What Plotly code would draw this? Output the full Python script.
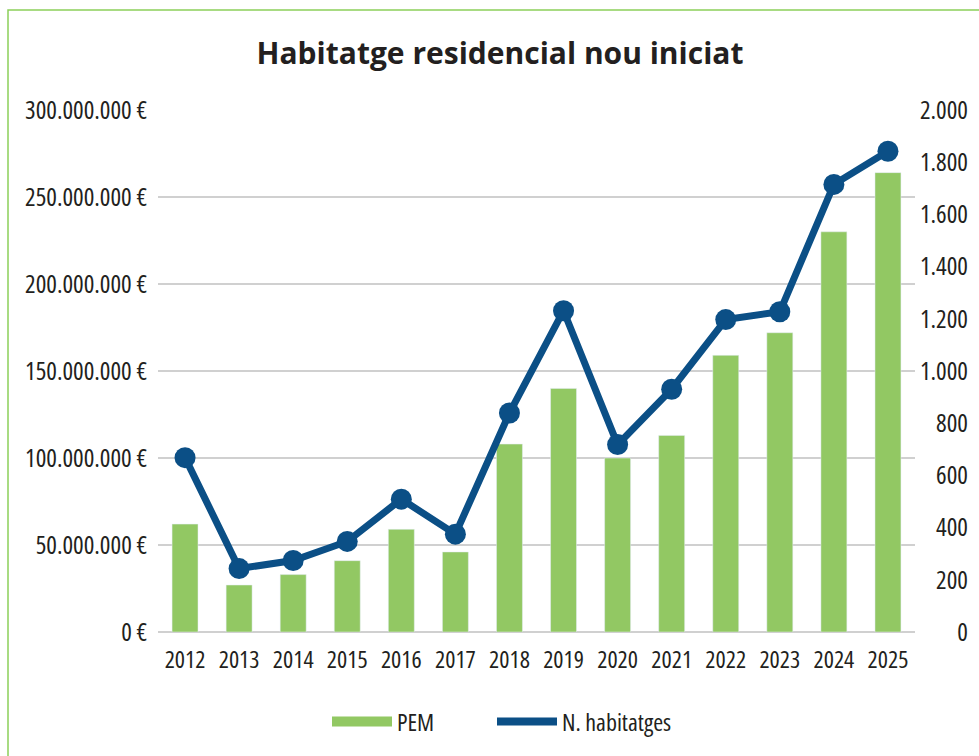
import plotly.graph_objects as go

years = ["2012", "2013", "2014", "2015", "2016", "2017", "2018",
         "2019", "2020", "2021", "2022", "2023", "2024", "2025"]
pem = [62e6, 27e6, 33e6, 41e6, 59e6, 46e6, 108e6,
       140e6, 100e6, 113e6, 159e6, 172e6, 230e6, 264e6]
habitatges = [668, 243, 274, 347, 509, 375, 839,
              1231, 718, 930, 1197, 1227, 1715, 1842]

left_ticks = [0, 50e6, 100e6, 150e6, 200e6, 250e6, 300e6]
left_labels = ["0 €", "50.000.000 €", "100.000.000 €", "150.000.000 €",
               "200.000.000 €", "250.000.000 €", "300.000.000 €"]
right_ticks = [0, 200, 400, 600, 800, 1000, 1200, 1400, 1600, 1800, 2000]
right_labels = ["0", "200", "400", "600", "800", "1.000", "1.200",
                "1.400", "1.600", "1.800", "2.000"]

GREEN = "#92C863"
BLUE = "#0B4F86"
GRID = "#D0D0D0"
TXT = "#231F20"
FONT = "Open Sans, Roboto, sans-serif"

W, H = 979, 756
L, R, T, B = 158, 1, 110, 124
pw = W - L - R
ph = H - T - B
plot_right = 915
dom_end = (plot_right - L) / pw


def px_x(v):
    return (v - L) / pw


def px_y(v):
    return (T + ph - v) / ph


fig = go.Figure()
fig.add_trace(go.Bar(x=years, y=pem, marker_color=GREEN, showlegend=False,
                     name="PEM"))
fig.add_trace(go.Scatter(x=years, y=habitatges, yaxis="y2", mode="lines+markers",
                         line=dict(color=BLUE, width=7),
                         marker=dict(color=BLUE, size=21),
                         showlegend=False, name="N. habitatges"))
# legend entries
fig.add_trace(go.Scatter(x=[None], y=[None], mode="lines", name="PEM",
                         line=dict(color=GREEN, width=14), legend="legend"))
fig.add_trace(go.Scatter(x=[None], y=[None], mode="lines", name="N. habitatges",
                         line=dict(color=BLUE, width=8), legend="legend2"))

legend_common = dict(orientation="h", yanchor="middle", xanchor="left",
                     font=dict(family=FONT, size=24, color=TXT),
                     itemwidth=60, bgcolor="rgba(0,0,0,0)")

fig.update_layout(
    width=W, height=H,
    margin=dict(l=L, r=R, t=T, b=B, autoexpand=False),
    paper_bgcolor="white", plot_bgcolor="white",
    bargap=0.52,
    title=dict(text="<b>Habitatge residencial nou iniciat</b>",
               font=dict(family="Open Sans, Noto Sans, sans-serif", size=30, color=TXT),
               x=px_x(500), xref="paper", xanchor="center",
               y=1 - 53 / H, yref="container", yanchor="middle"),
    xaxis=dict(domain=[0, dom_end], range=[-0.5, len(years) - 0.5],
               showgrid=False, showline=False, automargin=False,
               tickfont=dict(family=FONT, size=24, color=TXT), tickangle=0,
               ticks="", ticklabelstandoff=11),
    yaxis=dict(range=[0, 300e6], tickvals=left_ticks, ticktext=left_labels,
               showgrid=True, gridcolor=GRID, gridwidth=1.5, automargin=False,
               zeroline=True, zerolinecolor=GRID, zerolinewidth=1.5,
               showline=False, ticks="", ticklabelstandoff=10,
               tickfont=dict(family=FONT, size=25, color=TXT)),
    yaxis2=dict(range=[0, 2000], tickvals=right_ticks, ticktext=right_labels,
                overlaying="y", side="left", anchor="free", position=1.0,
                showgrid=False, zeroline=False, showline=False, ticks="",
                ticklabelstandoff=10, automargin=False,
                tickfont=dict(family=FONT, size=25, color=TXT)),
    legend=dict(x=px_x(327), y=px_y(722), **legend_common),
    legend2=dict(x=px_x(492), y=px_y(722), **legend_common),
    shapes=[dict(type="rect", xref="paper", yref="paper",
                 x0=px_x(8), x1=1.1, y0=-0.4, y1=px_y(10),
                 line=dict(color="#8CD05A", width=1.5), fillcolor="rgba(0,0,0,0)",
                 layer="below")],
)

post = (
    "document.body.style.margin='0';"
    "var s=document.createElement('style');"
    "s.textContent='svg text:not(.gtitle)"
    "{font-stretch:75% !important;}';"
    "document.head.appendChild(s);"
)

fig.write_html("out.html", post_script=post, config={"displayModeBar": False})
